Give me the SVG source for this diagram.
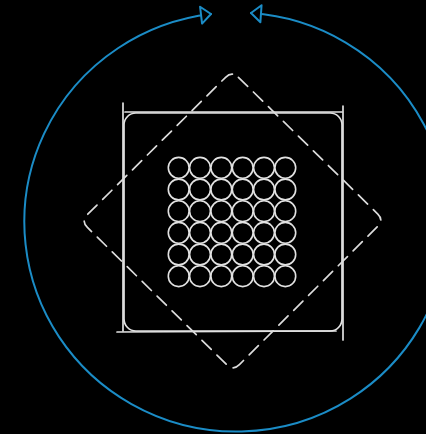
<svg xmlns="http://www.w3.org/2000/svg" width="426" height="434" viewBox="0 0 426 434">
  <style>
    .wh { fill: none; stroke: #e2e2e2; stroke-width: 1.7; stroke-linecap: round; stroke-linejoin: round; }
    .dash { fill: none; stroke: #dcdcdc; stroke-width: 1.7; stroke-dasharray: 13 8; stroke-linecap: round; }
    .blue { fill: none; stroke: #1b8cc6; stroke-width: 2; stroke-linecap: round; }
  </style>
  <defs>
    <marker id="tri" markerUnits="userSpaceOnUse" markerWidth="14" markerHeight="22" viewBox="0 0 14 22" refX="12" refY="11" orient="auto-start-reverse">
      <path d="M2,2.5 L12,11 L2,19.5 Z" fill="#000" stroke="#1b8cc6" stroke-width="2" stroke-linejoin="round"/>
    </marker>
    <circle id="c" r="10.4" class="wh" style="stroke-width:1.6"/>
  </defs>
  <rect width="426" height="434" fill="#000"/>

  <g id="connectors">
    <path class="blue" d="M211,14 A212,209.5 0 1 0 251,13" marker-start="url(#tri)" marker-end="url(#tri)"/>
  </g>

  <g id="square">
    <rect class="wh" x="124" y="113" width="218" height="218" rx="12"/>
    <line class="wh" x1="123" y1="103" x2="123" y2="331"/>
    <line class="wh" x1="125" y1="112" x2="342" y2="112"/>
    <line class="wh" x1="343" y1="106" x2="343" y2="340"/>
    <line class="wh" x1="117" y1="332" x2="336" y2="331"/>
  </g>

  <g id="diamond">
    <path class="dash" d="M238.4,77.3 L377.6,213.8 Q384,220 377.6,226.4 L239.4,364.6 Q233,371 226.6,364.6 L87.4,227.4 Q81,221 87.4,214.6 L225.6,77.3 Q232,71 238.4,77.3 Z"/>
  </g>

  <g id="grid">
    <use href="#c" x="178.7" y="167.8"/><use href="#c" x="200" y="167.8"/><use href="#c" x="221.3" y="167.8"/><use href="#c" x="242.7" y="167.8"/><use href="#c" x="264" y="167.8"/><use href="#c" x="285.3" y="167.8"/>
    <use href="#c" x="178.7" y="189.5"/><use href="#c" x="200" y="189.5"/><use href="#c" x="221.3" y="189.5"/><use href="#c" x="242.7" y="189.5"/><use href="#c" x="264" y="189.5"/><use href="#c" x="285.3" y="189.5"/>
    <use href="#c" x="178.7" y="211.2"/><use href="#c" x="200" y="211.2"/><use href="#c" x="221.3" y="211.2"/><use href="#c" x="242.7" y="211.2"/><use href="#c" x="264" y="211.2"/><use href="#c" x="285.3" y="211.2"/>
    <use href="#c" x="178.7" y="232.8"/><use href="#c" x="200" y="232.8"/><use href="#c" x="221.3" y="232.8"/><use href="#c" x="242.7" y="232.8"/><use href="#c" x="264" y="232.8"/><use href="#c" x="285.3" y="232.8"/>
    <use href="#c" x="178.7" y="254.5"/><use href="#c" x="200" y="254.5"/><use href="#c" x="221.3" y="254.5"/><use href="#c" x="242.7" y="254.5"/><use href="#c" x="264" y="254.5"/><use href="#c" x="285.3" y="254.5"/>
    <use href="#c" x="178.7" y="276.2"/><use href="#c" x="200" y="276.2"/><use href="#c" x="221.3" y="276.2"/><use href="#c" x="242.7" y="276.2"/><use href="#c" x="264" y="276.2"/><use href="#c" x="285.3" y="276.2"/>
  </g>
</svg>
